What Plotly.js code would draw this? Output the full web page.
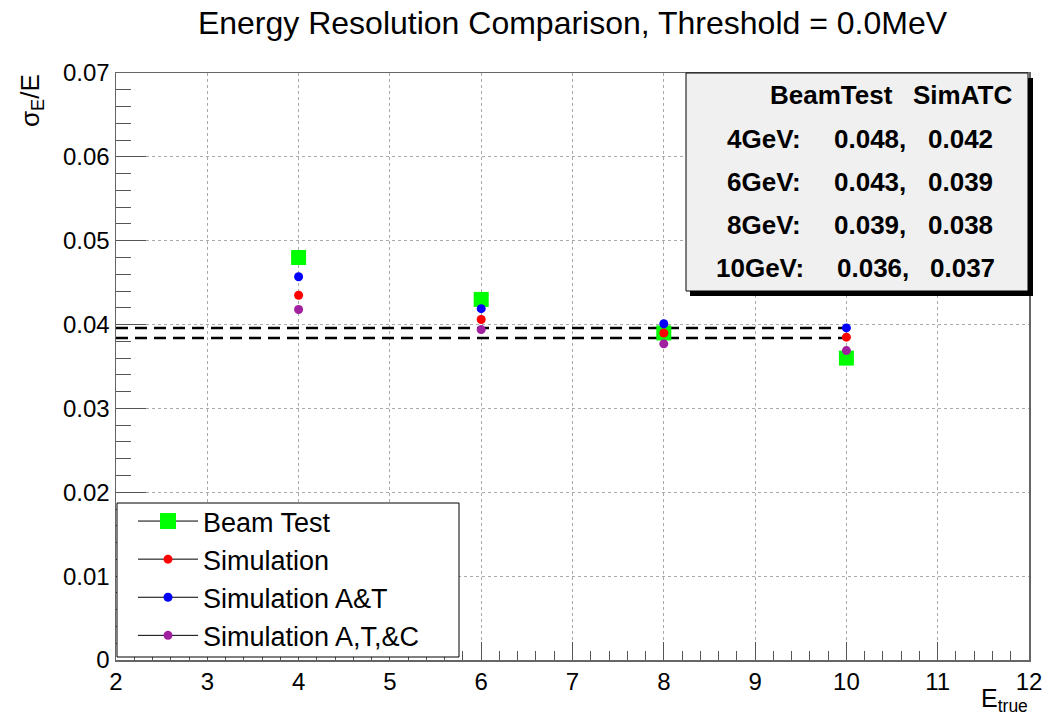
<!DOCTYPE html>
<html>
<head>
<meta charset="utf-8">
<script src="https://cdn.plot.ly/plotly-3.0.1.min.js"></script>
<style>html,body{margin:0;padding:0;background:#fff;}#chart{width:1052px;height:715px;}</style>
</head>
<body>
<div id="chart"></div>
<script>
// ---- data ----
const energies = [4, 6, 8, 10];
const beamTest = [0.048, 0.043, 0.039, 0.036];
const simulation = [0.0435, 0.0406, 0.0390, 0.0385];
const simAT = [0.0457, 0.0419, 0.0401, 0.0396];
const simATC = [0.0418, 0.0394, 0.0377, 0.0369];
const dashLevels = [0.0396, 0.0384];
const dashRange = [2, 10];
const seriesNames = ['Beam Test', 'Simulation', 'Simulation A&T', 'Simulation A,T,&C'];
const tableHeader = ['BeamTest', 'SimATC'];
const energyLabels = ['4GeV:', '6GeV:', '8GeV:', '10GeV:'];

// ---- layout helpers (pixel -> paper) ----
const L = 116, R = 1029, T = 73, B = 660;
const px = v => (v - L) / (R - L);
const py = v => (B - v) / (B - T);

const colors = ['#00ff00', '#ff0000', '#0000ff', '#a020a0'];
const symbols = ['square', 'circle', 'circle', 'circle'];
const sizes = [15, 9, 9, 9];
const seriesData = [beamTest, simulation, simAT, simATC];

const traces = [];
dashLevels.forEach(lv => {
  traces.push({
    x: dashRange, y: [lv, lv], mode: 'lines', showlegend: false, hoverinfo: 'skip',
    line: {color: '#000', width: 2.5, dash: '12px,7px'}
  });
});
seriesData.forEach((ys, i) => {
  traces.push({
    x: energies, y: ys, mode: 'markers', name: seriesNames[i], showlegend: false,
    marker: {color: colors[i], symbol: symbols[i], size: sizes[i]}
  });
});
seriesData.forEach((ys, i) => {
  traces.push({
    x: [null], y: [null], mode: 'lines+markers', name: seriesNames[i], legendgroup: 'g' + i,
    line: {color: '#000', width: 1},
    marker: {color: colors[i], symbol: symbols[i], size: i === 0 ? 16 : 9}
  });
});

const TF = 26;
const annotations = [];
annotations.push({xref: 'paper', yref: 'paper', x: px(768), y: py(95), xanchor: 'left', yanchor: 'middle',
  text: '<b>' + tableHeader[0] + '</b>', showarrow: false, font: {size: TF, color: '#000'}});
annotations.push({xref: 'paper', yref: 'paper', x: px(1014), y: py(95), xanchor: 'right', yanchor: 'middle',
  text: '<b>' + tableHeader[1] + '</b>', showarrow: false, font: {size: TF, color: '#000'}});
const rowY = [139, 182, 225, 268];
energyLabels.forEach((lab, i) => {
  annotations.push({xref: 'paper', yref: 'paper', x: px(i === 3 ? 806 : 803), y: py(rowY[i]), xanchor: 'right', yanchor: 'middle',
    text: '<b>' + lab + '</b>', showarrow: false, font: {size: TF, color: '#000'}});
  annotations.push({xref: 'paper', yref: 'paper', x: px(i === 3 ? 835 : 832), y: py(rowY[i]), xanchor: 'left', yanchor: 'middle',
    text: '<b>' + beamTest[i].toFixed(3) + ',</b>', showarrow: false, font: {size: TF, color: '#000'}});
  annotations.push({xref: 'paper', yref: 'paper', x: px(i === 3 ? 997 : 995), y: py(rowY[i]), xanchor: 'right', yanchor: 'middle',
    text: '<b>' + simATC[i].toFixed(3) + '</b>', showarrow: false, font: {size: TF, color: '#000'}});
});
annotations.push({xref: 'paper', yref: 'paper', x: px(31), y: py(101), xanchor: 'center', yanchor: 'middle',
  text: 'σ<sub>E</sub>/E', textangle: -90, showarrow: false, font: {size: 26, color: '#000'}});
annotations.push({xref: 'paper', yref: 'paper', x: px(1030), y: py(718), xanchor: 'right', yanchor: 'bottom',
  text: 'E<sub>true</sub>', showarrow: false, font: {size: 25, color: '#000'}});

const shapes = [
  {type: 'rect', xref: 'paper', yref: 'paper', x0: px(690), x1: px(1033), y0: py(296), y1: py(78),
    fillcolor: '#000', line: {width: 0}, layer: 'above'},
  {type: 'rect', xref: 'paper', yref: 'paper', x0: px(686), x1: px(1028), y0: py(291), y1: py(73),
    fillcolor: '#f0f0f0', line: {color: '#000', width: 1}, layer: 'above'},
  {type: 'rect', xref: 'paper', yref: 'paper', x0: px(117), x1: px(459), y0: py(657), y1: py(503),
    fillcolor: '#fff', line: {color: '#000', width: 1}, layer: 'above'}
];

const layout = {
  width: 1052, height: 715,
  margin: {l: L, r: 1052 - R, t: T, b: 715 - B},
  paper_bgcolor: '#fff', plot_bgcolor: '#fff',
  font: {family: 'Liberation Sans, Arial, sans-serif', color: '#000'},
  title: {text: 'Energy Resolution Comparison, Threshold = 0.0MeV', xref: 'paper', x: 0.5, xanchor: 'center',
    yref: 'container', y: 1 - 23 / 715, yanchor: 'middle', font: {size: 32, color: '#000'}},
  xaxis: {
    range: [2, 12], tickmode: 'linear', tick0: 2, dtick: 1,
    ticks: 'inside', ticklen: 18, tickcolor: '#555', tickwidth: 1,
    minor: {dtick: 0.2, ticks: 'inside', ticklen: 9, tickcolor: '#555', showgrid: false},
    showline: true, linecolor: '#666', linewidth: 1.5, mirror: true,
    showgrid: true, gridcolor: '#aaa', griddash: 'dot', gridwidth: 1,
    zeroline: false, tickfont: {size: 24, color: '#000'}
  },
  yaxis: {
    range: [0, 0.07], tickmode: 'linear', tick0: 0, dtick: 0.01,
    ticks: 'inside', ticklen: 30, tickcolor: '#555', tickwidth: 1,
    minor: {dtick: 0.002, ticks: 'inside', ticklen: 15, tickcolor: '#555', showgrid: false},
    showline: true, linecolor: '#666', linewidth: 1.5, mirror: true,
    showgrid: true, gridcolor: '#aaa', griddash: 'dot', gridwidth: 1,
    zeroline: false, tickfont: {size: 24, color: '#000'}
  },
  showlegend: true,
  legend: {
    x: px(133), y: py(497), xanchor: 'left', yanchor: 'top', xref: 'paper', yref: 'paper',
    bgcolor: 'rgba(0,0,0,0)', borderwidth: 0, itemwidth: 60, tracegroupgap: 0,
    font: {size: 27, color: '#000'}, itemclick: false
  },
  shapes: shapes,
  annotations: annotations
};

Plotly.newPlot('chart', traces, layout, {displayModeBar: false, staticPlot: true});
</script>
</body>
</html>
